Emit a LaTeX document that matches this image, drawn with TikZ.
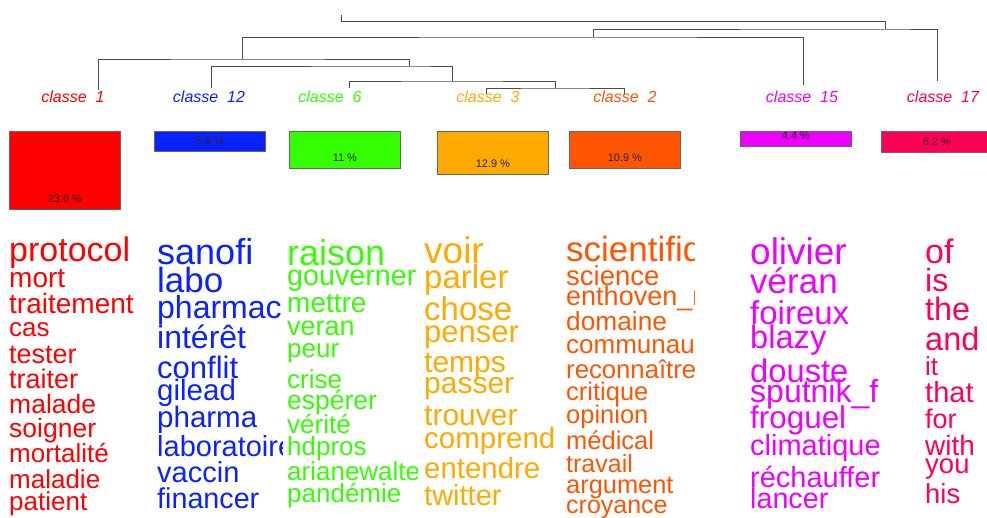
\documentclass[tikz,border=0pt]{standalone}
\usepackage{fontspec}
\setmainfont{Liberation Sans}
\usepackage{tikz}

\definecolor{c1}{HTML}{FF0000}
\definecolor{c12}{HTML}{0A22FF}
\definecolor{c6}{HTML}{33FF00}
\definecolor{c3}{HTML}{FFAA00}
\definecolor{c2}{HTML}{FF5500}
\definecolor{c15}{HTML}{EE00FF}
\definecolor{c17}{HTML}{FF0055}

\tikzset{
  tree/.style={black!70,line width=0.9pt},
  cls/.style={anchor=base,inner sep=0pt,font=\fontsize{16}{16}\selectfont\itshape},
  bar/.style={draw=black!60,line width=0.8pt,anchor=north west,minimum width=111pt,inner sep=0pt},
  pct/.style={inner sep=0pt,text=black!85,font=\fontsize{11}{11}\selectfont},
  word/.style={anchor=base west,inner sep=0pt}
}

\begin{document}
\begin{tikzpicture}[x=1pt,y=-1pt]
          \useasboundingbox (0,0) rectangle (987,517);
          % dendrogram
          \coordinate (root) at (341,15);
          \coordinate (s0) at (341,21);
          \coordinate (s17) at (885,29);
          \coordinate (s15) at (593,37);
          \coordinate (s1) at (242,59);
          \coordinate (s12) at (409,66);
          \coordinate (s632) at (452,81);
          \coordinate (s32) at (555,88);
          \coordinate (L1) at (98,90);
          \coordinate (L12) at (211,88);
          \coordinate (L6) at (349,88);
          \coordinate (L3) at (486,94);
          \coordinate (L2) at (624,94);
          \coordinate (L15) at (803,85);
          \coordinate (L17) at (937,81);
          \draw[tree] (L3) |- (s32) -| (L2);
          \draw[tree] (L6) |- (s632) -| (s32);
          \draw[tree] (L12) |- (s12) -| (s632);
          \draw[tree] (L1) |- (s1) -| (s12);
          \draw[tree] (s1) |- (s15) -| (L15);
          \draw[tree] (s15) |- (s17) -| (L17);
          \draw[tree] (s17) |- (s0) -- (root);
          % class labels
          \node[cls,text=c1] (lab1) at (73,102) {classe\ \ 1};
          \node[cls,text=c12] (lab12) at (209,102) {classe\ \ 12};
          \node[cls,text=c6] (lab6) at (330,102) {classe\ \ 6};
          \node[cls,text=c3] (lab3) at (488,102) {classe\ \ 3};
          \node[cls,text=c2] (lab2) at (625,102) {classe\ \ 2};
          \node[cls,text=c15] (lab15) at (802,102) {classe\ \ 15};
          \node[cls,text=c17] (lab17) at (943,102) {classe\ \ 17};
          % bars
          \node[bar,fill=c1,minimum height=78pt] (b1) at (9,131) {};
          \node[bar,fill=c12,minimum height=20pt] (b12) at (154,131) {};
          \node[bar,fill=c6,minimum height=37pt] (b6) at (289,131) {};
          \node[bar,fill=c3,minimum height=43pt] (b3) at (437,131) {};
          \node[bar,fill=c2,minimum height=37pt] (b2) at (569,131) {};
          \node[bar,fill=c15,minimum height=15pt] (b15) at (740,131) {};
          \node[bar,fill=c17,minimum height=21pt] (b17) at (881,131) {};
          \foreach \b/\p in {1/23.6,12/5.8,6/11,3/12.9,2/10.9,15/4.4,17/6.2}
            \node[pct] (p\b) at ([yshift=11pt]b\b.south) {\p\ \%};
          % words
          \begin{scope}
            \clip (0,225) rectangle (141,517);
            \foreach \w/\s/\y [count=\i] in {protocol/34/261,mort/28/287,traitement/28/313,cas/26/336,tester/27/363,traiter/27/388,malade/26.5/413,soigner/26.5/437,mortalité/26/462,maladie/26/488,patient/26/510}
              \node[word,text=c1,font=\fontsize{\s}{\s}\selectfont] (w1-\i) at (9,\y) {\w};
          \end{scope}
          \begin{scope}
            \clip (150,225) rectangle (282.5,517);
            \foreach \w/\s/\y [count=\i] in {sanofi/36/264,labo/35/292,pharmacie/32/318,intérêt/32/348,conflit/31/378,gilead/29.5/400,pharma/29.5/427,laboratoire/29/456,vaccin/29/482,financer/28.7/508}
              \node[word,text=c12,font=\fontsize{\s}{\s}\selectfont] (w12-\i) at (157,\y) {\w};
          \end{scope}
          \begin{scope}
            \clip (285,225) rectangle (417,517);
            \foreach \w/\s/\y [count=\i] in {raison/36/265,gouverner/28.7/285,mettre/28/312,veran/27/335,peur/26/357,crise/26/388,espérer/26.5/409,vérité/26/433,hdpros/26/455,arianewalter/26/480,pandémie/26/502}
              \node[word,text=c6,font=\fontsize{\s}{\s}\selectfont] (w6-\i) at (287,\y) {\w};
          \end{scope}
          \begin{scope}
            \clip (420,225) rectangle (553,517);
            \foreach \w/\s/\y [count=\i] in {voir/37/263,parler/33/288,chose/33/320,penser/31/342,temps/30/372,passer/30/393,trouver/30/425,comprendre/29.5/448,entendre/29.4/478,twitter/29/505}
              \node[word,text=c3,font=\fontsize{\s}{\s}\selectfont] (w3-\i) at (424,\y) {\w};
          \end{scope}
          \begin{scope}
            \clip (560,225) rectangle (694,517);
            \foreach \w/\s/\y [count=\i] in {scientifique/35/261,science/27.5/285,enthoven\_r/27/305,domaine/26.3/330,communauté/26/353,reconnaître/25.7/378,critique/25.5/400,opinion/25.5/423,médical/25.5/449,travail/25/472,argument/25.4/493,croyance/25/513}
              \node[word,text=c2,font=\fontsize{\s}{\s}\selectfont] (w2-\i) at (566,\y) {\w};
          \end{scope}
          \begin{scope}
            \clip (745,225) rectangle (879,517);
            \foreach \w/\s/\y [count=\i] in {olivier/37/264,véran/35/293,foireux/33/324,blazy/32.6/348,douste/32.7/382,sputnik\_fr/32/402,froguel/31.4/428,climatique/29/455,réchauffer/29/487,lancer/28.7/508}
              \node[word,text=c15,font=\fontsize{\s}{\s}\selectfont] (w15-\i) at (750,\y) {\w};
          \end{scope}
          \foreach \w/\s/\y [count=\i] in {of/34/263,is/32/291,the/32.4/320,and/32.6/350,it/26/375,that/29/402,for/27/428,with/28/455,you/27.5/473,his/27.4/503}
            \node[word,text=c17,font=\fontsize{\s}{\s}\selectfont] (w17-\i) at (925,\y) {\w};
        \end{tikzpicture}
\end{document}
